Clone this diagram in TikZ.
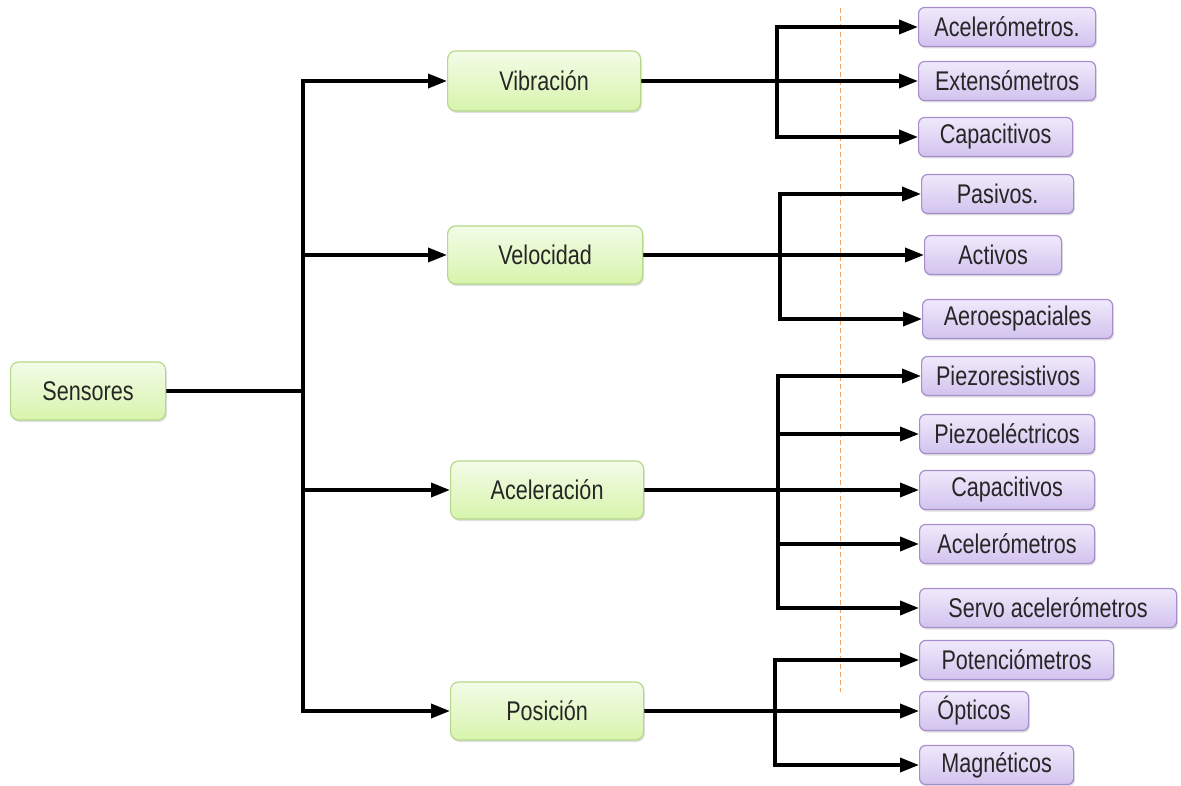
\documentclass[tikz,border=0pt]{standalone}
\usepackage{fontspec}
\usetikzlibrary{arrows.meta,shadows,backgrounds}
\newfontfamily\boxfont[FakeStretch=0.8]{Liberation Sans}
\definecolor{txtgray}{HTML}{262626}
\definecolor{grtop}{HTML}{F3FCE8}
\definecolor{grbot}{HTML}{D8F4AC}
\definecolor{grline}{HTML}{B5D98A}
\definecolor{putop}{HTML}{F0EAFB}
\definecolor{pubot}{HTML}{D2C2EE}
\definecolor{puline}{HTML}{A78DCE}
\definecolor{guide}{HTML}{F5A160}
\tikzset{
  x=1pt, y=-1pt,
  basebox/.style={anchor=west, inner sep=0pt, font=\boxfont\fontsize{27}{30}\selectfont,
    text=txtgray, line width=1.2pt,
    drop shadow={shadow xshift=1.2pt, shadow yshift=-2pt, opacity=0.25}},
  mainbox/.style={basebox, rounded corners=8pt, draw=grline, top color=grtop, bottom color=grbot,
    minimum height=58pt},
  subbox/.style={basebox, rounded corners=6pt, draw=puline, top color=putop, bottom color=pubot,
    minimum height=39pt},
  conn/.style={line width=3.6pt, black, line cap=rect},
  arr/.style={conn, -{Triangle[length=19pt,width=14pt]}},
}
\begin{document}
\begin{tikzpicture}
\useasboundingbox (0,0) rectangle (1181,786);

% root and first level
\node[mainbox, minimum width=155pt] (sens) at (10,391) {Sensores};
\node[mainbox, minimum width=193pt, minimum height=60pt] (vib) at (447,81) {Vibración};
\node[mainbox, minimum width=195pt] (vel) at (447,255) {Velocidad};
\node[mainbox, minimum width=193pt] (acel) at (450,490) {Aceleración};
\node[mainbox, minimum width=193pt] (pos) at (450,711) {Posición};

% vibration sensors
\node[subbox, minimum width=177pt] (a1) at (918,27) {Acelerómetros.};
\node[subbox, minimum width=177pt] (a2) at (918,81) {Extensómetros};
\node[subbox, minimum width=154pt] (a3) at (918,137) {Capacitivos};

% velocity sensors
\node[subbox, minimum width=152pt] (b1) at (921,194) {Pasivos.};
\node[subbox, minimum width=137pt] (b2) at (924,255) {Activos};
\node[subbox, minimum width=190pt] (b3) at (922,319) {Aeroespaciales};

% acceleration sensors
\node[subbox, minimum width=173pt] (c1) at (921,376) {Piezoresistivos};
\node[subbox, minimum width=175pt] (c2) at (919,434) {Piezoeléctricos};
\node[subbox, minimum width=175pt] (c3) at (919,490) {Capacitivos};
\node[subbox, minimum width=175pt] (c4) at (919,544) {Acelerómetros};
\node[subbox, minimum width=257pt] (c5) at (919,608) {Servo acelerómetros};

% position sensors
\node[subbox, minimum width=194pt] (d1) at (919,660) {Potenciómetros};
\node[subbox, minimum width=109pt] (d2) at (919,711) {Ópticos};
\node[subbox, minimum width=154pt] (d3) at (919,765) {Magnéticos};

% branching columns
\coordinate (tk) at (303,391);
\coordinate (bv) at (777,0);
\coordinate (bl) at (780,0);
\coordinate (ba) at (778,0);
\coordinate (bp) at (775,0);

\begin{pgfonlayer}{background}
  % guide line
  \draw[guide, line width=1pt, dash pattern=on 5pt off 3pt] (840,8) -- (840,692);

  % trunk
  \draw[conn] (sens.east) -- (sens.east -| tk);
  \draw[arr] (pos.west -| tk) -- (vib.west -| tk) -- (vib.west);
  \draw[arr] (vel.west -| tk) -- (vel.west);
  \draw[arr] (acel.west -| tk) -- (acel.west);
  \draw[arr] (pos.west -| tk) -- (pos.west);

  % vibration
  \draw[arr] (vib.east) -- (a2.west);
  \draw[arr] (a3.west -| bv) -- (a1.west -| bv) -- (a1.west);
  \draw[arr] (a3.west -| bv) -- (a3.west);

  % velocity
  \draw[arr] (vel.east) -- (b2.west);
  \draw[arr] (b3.west -| bl) -- (b1.west -| bl) -- (b1.west);
  \draw[arr] (b3.west -| bl) -- (b3.west);

  % acceleration
  \draw[arr] (acel.east) -- (c3.west);
  \draw[arr] (c5.west -| ba) -- (c1.west -| ba) -- (c1.west);
  \draw[arr] (c2.west -| ba) -- (c2.west);
  \draw[arr] (c4.west -| ba) -- (c4.west);
  \draw[arr] (c5.west -| ba) -- (c5.west);

  % position
  \draw[arr] (pos.east) -- (d2.west);
  \draw[arr] (d3.west -| bp) -- (d1.west -| bp) -- (d1.west);
  \draw[arr] (d3.west -| bp) -- (d3.west);
\end{pgfonlayer}
\end{tikzpicture}
\end{document}
